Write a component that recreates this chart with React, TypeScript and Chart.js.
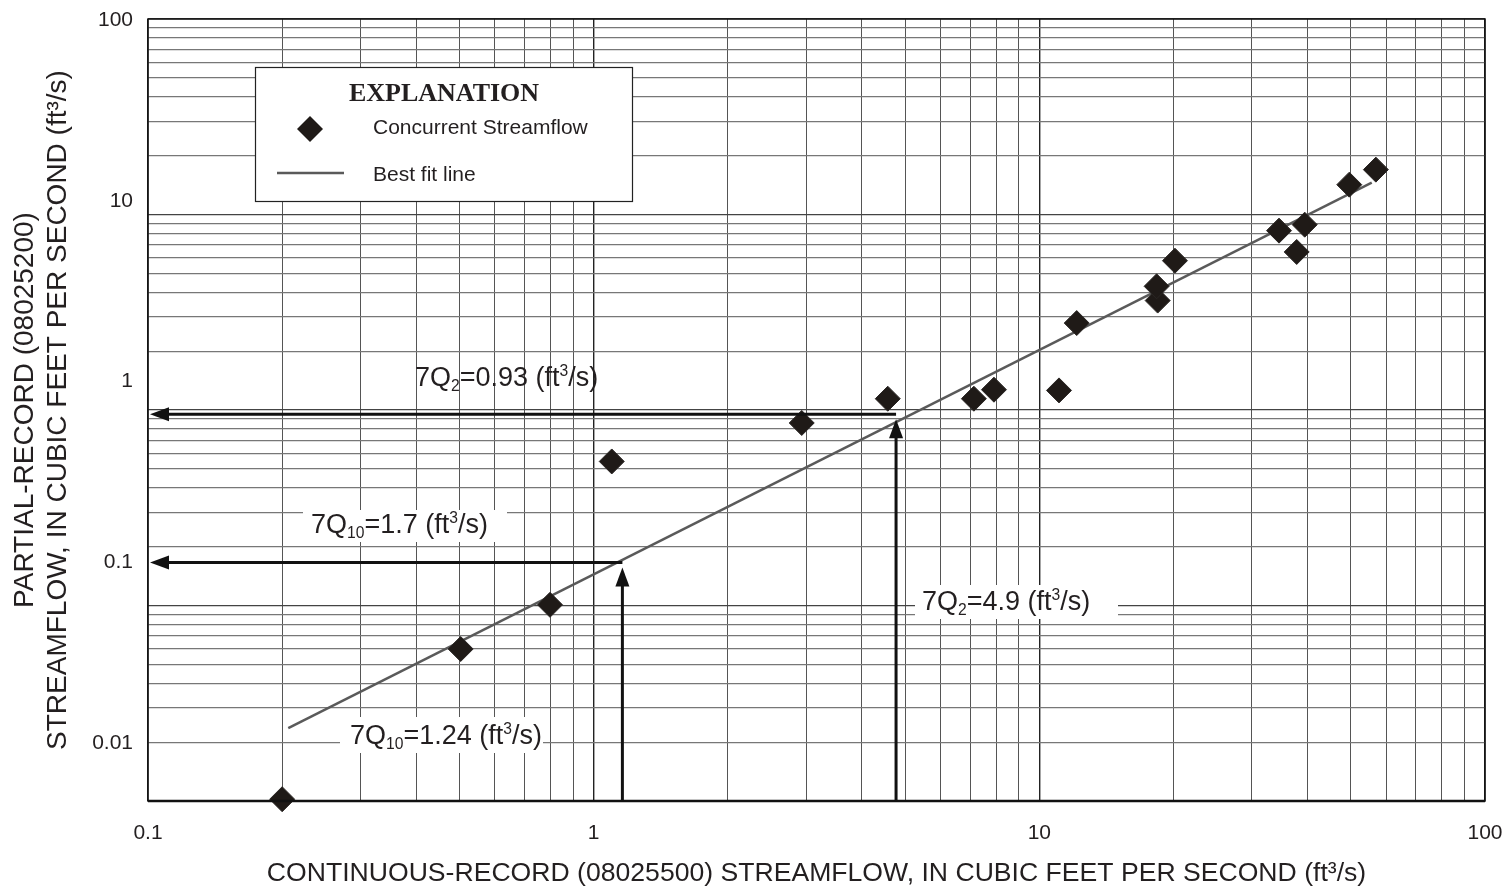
import React, { useEffect, useRef } from 'react';
import { Chart, registerables } from 'chart.js';

Chart.register(...registerables);

// ---------- data ----------
const flowX = [0.2, 0.503, 0.798, 1.098, 2.93, 4.57, 7.13, 7.91, 11.07, 12.13, 18.43, 18.33, 20.15, 34.5, 37.8, 39.4, 49.6, 56.9];
const flowY = [0.0049, 0.0332, 0.0583, 0.362, 0.591, 0.805, 0.805, 0.903, 0.895, 2.11, 2.81, 3.37, 4.67, 6.85, 5.22, 7.39, 12.3, 14.9];
const fitX = [0.2064, 55.7];
const fitY = [0.01213, 12.63];
const arrowX = [1.16, 4.77];
const arrowY = [0.1, 0.66];

const xTicks = [0.1, 1, 10, 100];
const xTickLabels = ['0.1', '1', '10', '100'];
const yTicks = [0.01, 0.1, 1, 10, 100];
const yTickLabels = ['0.01', '0.1', '1', '10', '100'];
const xMin = 0.1;
const xMax = 100;
const yMin = 0.00479;
const yMax = 101.5;

// log-paper grid (x: 3 cycles, y: printed 4-cycle paper)
const gridMultipliers = [1, 2, 3, 4, 5, 6, 7, 8, 9];
const xGridDecades = [0.1, 1, 10];
const xGridEnd = 100;
const paperDecades = [1, 10, 100, 1000];
const paperEnd = 10000;

type Seg = { t: string; k?: 'sub' | 'sup' };
const noteTexts: Seg[][] = [
  [{ t: '7Q' }, { t: '2', k: 'sub' }, { t: '=0.93 (ft' }, { t: '3', k: 'sup' }, { t: '/s)' }],
  [{ t: '7Q' }, { t: '10', k: 'sub' }, { t: '=1.7 (ft' }, { t: '3', k: 'sup' }, { t: '/s)' }],
  [{ t: '7Q' }, { t: '2', k: 'sub' }, { t: '=4.9 (ft' }, { t: '3', k: 'sup' }, { t: '/s)' }],
  [{ t: '7Q' }, { t: '10', k: 'sub' }, { t: '=1.24 (ft' }, { t: '3', k: 'sup' }, { t: '/s)' }],
];

// ---------- layout / style ----------
const W = 1512;
const H = 888;
const FONT = '"Liberation Sans", Arial, Helvetica, sans-serif';
const TEXT = '#231f20';
const noteLayout = [
  { x: 415, y: 386, box: null as null | number[] },
  { x: 311, y: 533, box: [303, 510, 507, 542] },
  { x: 922, y: 610, box: [915, 585, 1118, 619] },
  { x: 350, y: 744, box: [340, 717, 543, 753] },
];

function cycleValues(decades: number[], end: number) {
  const out: number[] = [];
  decades.forEach((d) => gridMultipliers.forEach((m) => out.push(Number((d * m).toPrecision(6)))));
  out.push(end);
  return out;
}
const isDecade = (v: number) => Math.abs(Math.log10(v) - Math.round(Math.log10(v))) < 1e-6;

function drawRich(ctx: CanvasRenderingContext2D, segs: Seg[], x: number, y: number, size: number) {
  let cx = x;
  ctx.textAlign = 'left';
  ctx.textBaseline = 'alphabetic';
  for (const s of segs) {
    const fs = s.k ? size * 0.58 : size;
    const dy = s.k === 'sub' ? size * 0.2 : s.k === 'sup' ? -size * 0.36 : 0;
    ctx.font = `${fs}px ${FONT}`;
    ctx.fillText(s.t, cx, y + dy);
    cx += ctx.measureText(s.t).width;
  }
}

function arrowHead(ctx: CanvasRenderingContext2D, tipX: number, tipY: number, dir: 'left' | 'up') {
  const L = 19;
  const hw = 7;
  ctx.beginPath();
  if (dir === 'left') {
    ctx.moveTo(tipX, tipY);
    ctx.lineTo(tipX + L, tipY - hw);
    ctx.lineTo(tipX + L, tipY + hw);
  } else {
    ctx.moveTo(tipX, tipY);
    ctx.lineTo(tipX - hw, tipY + L);
    ctx.lineTo(tipX + hw, tipY + L);
  }
  ctx.closePath();
  ctx.fill();
}

const overlayPlugin = {
  id: 'overlay',
  beforeDatasetsDraw(chart: any) {
    const ctx: CanvasRenderingContext2D = chart.ctx;
    ctx.save();
    ctx.fillStyle = '#ffffff';
    noteLayout.forEach((n) => {
      if (n.box) ctx.fillRect(n.box[0], n.box[1], n.box[2] - n.box[0], n.box[3] - n.box[1]);
    });
    ctx.restore();
  },
  afterDatasetsDraw(chart: any) {
    const ctx: CanvasRenderingContext2D = chart.ctx;
    const xs = chart.scales.x;
    const ys = chart.scales.y;
    const area = chart.chartArea;
    ctx.save();

    // frame
    ctx.strokeStyle = '#111';
    ctx.lineWidth = 1.5;
    ctx.strokeRect(area.left, area.top, area.right - area.left, area.bottom - area.top);
    ctx.lineWidth = 2.5;
    ctx.beginPath();
    ctx.moveTo(area.left, area.bottom);
    ctx.lineTo(area.right, area.bottom);
    ctx.stroke();

    // arrows
    ctx.strokeStyle = '#111';
    ctx.fillStyle = '#111';
    ctx.lineWidth = 3;
    arrowX.forEach((ax, i) => {
      const px = xs.getPixelForValue(ax);
      const py = ys.getPixelForValue(arrowY[i]);
      ctx.beginPath();
      ctx.moveTo(px, py);
      ctx.lineTo(area.left + 14, py);
      ctx.stroke();
      arrowHead(ctx, area.left + 2, py, 'left');
      ctx.beginPath();
      ctx.moveTo(px, area.bottom);
      ctx.lineTo(px, py + 18);
      ctx.stroke();
      arrowHead(ctx, px, py + 5, 'up');
    });

    // notes
    ctx.fillStyle = TEXT;
    noteTexts.forEach((segs, i) => drawRich(ctx, segs, noteLayout[i].x, noteLayout[i].y, 27));

    // legend (EXPLANATION box)
    ctx.fillStyle = '#ffffff';
    ctx.fillRect(255.5, 67.5, 377, 134);
    ctx.strokeStyle = '#222';
    ctx.lineWidth = 1.2;
    ctx.strokeRect(255.5, 67.5, 377, 134);
    ctx.fillStyle = TEXT;
    ctx.font = `bold 26px "Liberation Serif", "Times New Roman", serif`;
    ctx.textAlign = 'center';
    ctx.textBaseline = 'alphabetic';
    ctx.fillText('EXPLANATION', 444, 100.5);
    ctx.beginPath();
    ctx.moveTo(310, 116);
    ctx.lineTo(323, 129);
    ctx.lineTo(310, 142);
    ctx.lineTo(297, 129);
    ctx.closePath();
    ctx.fillStyle = '#1f1a17';
    ctx.fill();
    ctx.fillStyle = TEXT;
    ctx.font = `21px ${FONT}`;
    ctx.textAlign = 'left';
    ctx.textBaseline = 'middle';
    ctx.fillText('Concurrent Streamflow', 373, 128);
    ctx.fillText('Best fit line', 373, 175.5);
    ctx.strokeStyle = '#5a5a5a';
    ctx.lineWidth = 2.5;
    ctx.beginPath();
    ctx.moveTo(277, 173);
    ctx.lineTo(344, 173);
    ctx.stroke();

    ctx.restore();
  },
};

export default function App() {
  const ref = useRef<HTMLCanvasElement | null>(null);

  useEffect(() => {
    if (!ref.current) return;
    Chart.defaults.font.family = FONT;
    Chart.defaults.color = TEXT;
    const xGrid = cycleValues(xGridDecades, xGridEnd);
    const yGrid = cycleValues(paperDecades, paperEnd);

    const chart = new Chart(ref.current, {
      type: 'scatter',
      data: {
        datasets: [
          {
            label: 'Concurrent Streamflow',
            data: flowX.map((x, i) => ({ x, y: flowY[i] })),
            pointStyle: 'rectRot',
            pointRadius: 12.5,
            pointHoverRadius: 12.5,
            backgroundColor: '#1f1a17',
            borderColor: '#2a2624',
            borderWidth: 1,
            clip: false,
          } as any,
          {
            label: 'Best fit line',
            data: fitX.map((x, i) => ({ x, y: fitY[i] })),
            showLine: true,
            borderColor: '#5a5a5a',
            borderWidth: 2.5,
            pointRadius: 0,
            pointHoverRadius: 0,
          } as any,
        ],
      },
      options: {
        animation: false,
        responsive: false,
        maintainAspectRatio: false,
        events: [],
        layout: { padding: { top: 19, right: 27, left: 0, bottom: 0 } },
        plugins: {
          legend: { display: false },
          tooltip: { enabled: false },
        },
        scales: {
          x: {
            type: 'logarithmic',
            position: 'bottom',
            min: xMin,
            max: xMax,
            afterBuildTicks: (s: any) => {
              s.ticks = xGrid.map((v) => ({ value: v }));
            },
            afterFit: (s: any) => {
              s.height = H - 801;
              s.paddingLeft = 0;
              s.paddingRight = 0;
            },
            ticks: {
              autoSkip: false,
              maxRotation: 0,
              padding: 20,
              font: { size: 21 },
              color: TEXT,
              callback: (v: any) => {
                const i = xTicks.findIndex((t) => Math.abs(t - Number(v)) / t < 1e-6);
                return i >= 0 ? xTickLabels[i] : '';
              },
            },
            grid: {
              drawTicks: false,
              color: (c: any) => (c.tick && isDecade(c.tick.value) ? '#222' : '#555'),
              lineWidth: (c: any) => (c.tick && isDecade(c.tick.value) ? 1.4 : 1),
            },
            border: { display: false },
            title: {
              display: true,
              text: 'CONTINUOUS-RECORD (08025500) STREAMFLOW, IN CUBIC FEET PER SECOND (ft³/s)',
              font: { size: 26.6, lineHeight: 1.1 },
              color: TEXT,
              padding: { top: 0, bottom: 0 },
            },
          },
          y: {
            type: 'logarithmic',
            position: 'left',
            weight: 1,
            min: yMin,
            max: yMax,
            afterBuildTicks: (s: any) => {
              s.ticks = yTicks.map((v) => ({ value: v }));
            },
            afterFit: (s: any) => {
              s.width = 148;
              s.paddingTop = 0;
              s.paddingBottom = 0;
            },
            ticks: {
              autoSkip: false,
              padding: 15,
              font: { size: 21 },
              color: TEXT,
              callback: (v: any) => {
                const i = yTicks.findIndex((t) => Math.abs(t - Number(v)) / t < 1e-6);
                return i >= 0 ? yTickLabels[i] : '';
              },
            },
            grid: { display: false, drawTicks: false },
            border: { display: false },
            title: {
              display: true,
              text: ['PARTIAL-RECORD (08025200)', 'STREAMFLOW, IN CUBIC FEET PER SECOND (ft³/s)'],
              font: { size: 28, lineHeight: 33 / 28 },
              color: TEXT,
              padding: { top: 9, bottom: 0 },
            },
          },
          yg: {
            type: 'logarithmic',
            position: 'left',
            weight: 0,
            min: 1,
            max: paperEnd,
            afterBuildTicks: (s: any) => {
              s.ticks = yGrid.map((v) => ({ value: v }));
            },
            afterFit: (s: any) => {
              s.width = 0;
              s.paddingTop = 0;
              s.paddingBottom = 0;
            },
            ticks: { display: false },
            grid: {
              drawTicks: false,
              color: (c: any) => (c.tick && isDecade(c.tick.value) ? '#444' : '#777'),
              lineWidth: 1.2,
            },
            border: { display: false },
          },
        },
      } as any,
      plugins: [overlayPlugin],
    });
    return () => chart.destroy();
  }, []);

  return (
    <div style={{ position: 'absolute', left: 0, top: 0, width: W, height: H, background: '#fff' }}>
      <canvas ref={ref} width={W} height={H} style={{ display: 'block' }} />
    </div>
  );
}
